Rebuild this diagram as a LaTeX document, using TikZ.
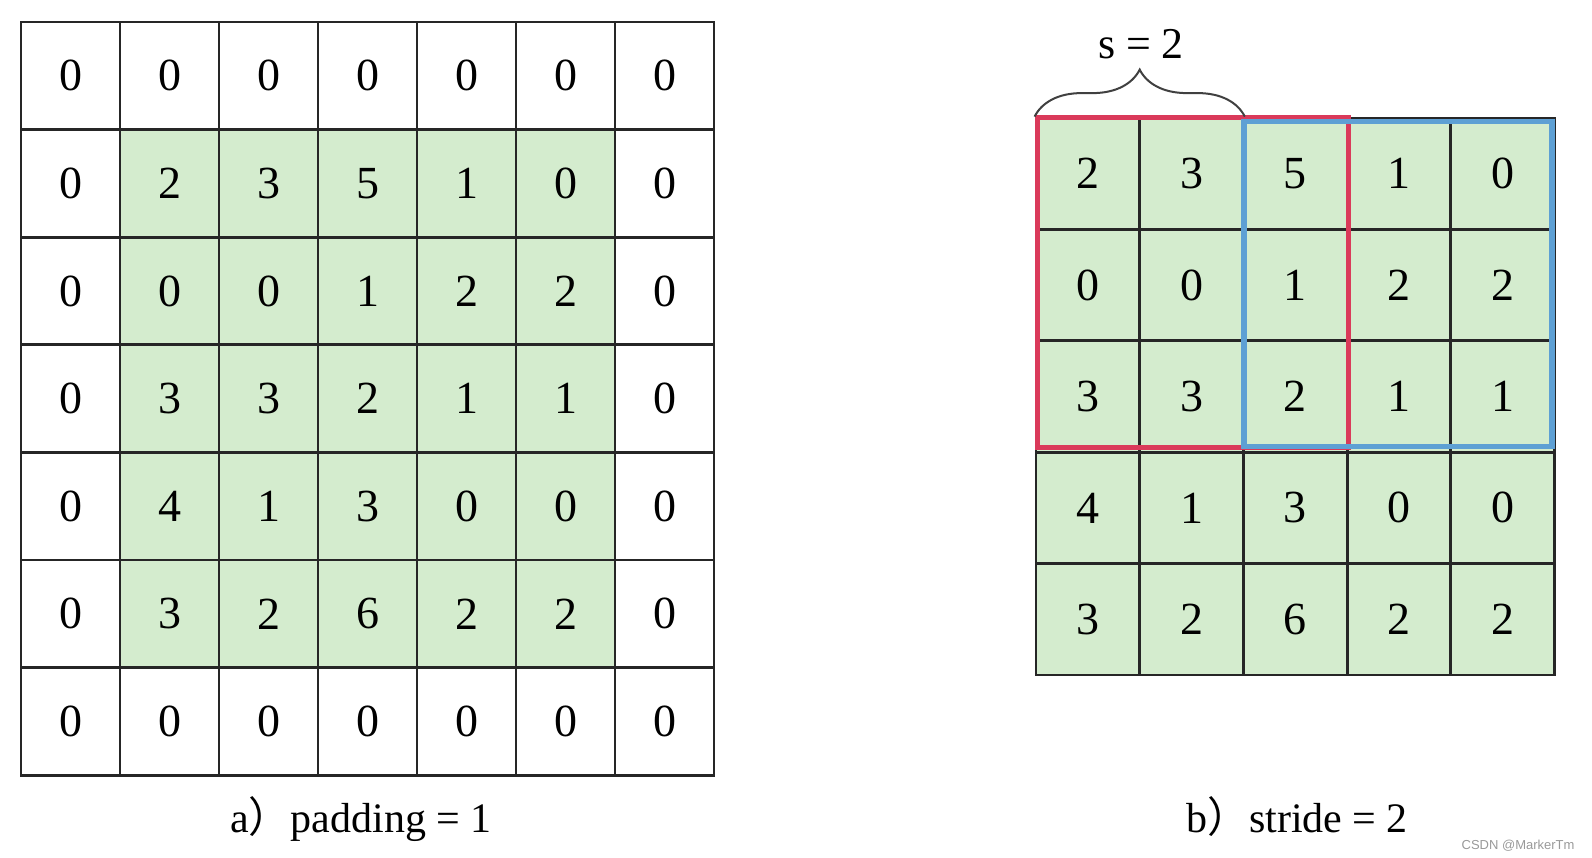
\documentclass[tikz,border=0pt]{standalone}
\usepackage{fontspec}
\setmainfont{Liberation Serif}
\newfontfamily\cjk{Noto Sans CJK SC}
\newfontfamily\wmfont{Liberation Sans}
\usetikzlibrary{backgrounds,decorations.pathreplacing}

\definecolor{cellgreen}{RGB}{212,236,206}
\definecolor{kernelred}{RGB}{218,58,90}
\definecolor{kernelblue}{RGB}{94,160,212}

\tikzset{
  cell/.style={draw=black!85, line width=2.8pt, minimum width=99pt,
    minimum height=107.6pt, inner sep=0pt, font=\fontsize{46}{46}\selectfont},
  scell/.style={cell, fill=cellgreen, minimum width=103.7pt, minimum height=111.4pt},
  caption/.style={anchor=base, font=\fontsize{42}{42}\selectfont},
}

\begin{document}
\begin{tikzpicture}[x=1pt, y=-1pt]
  \useasboundingbox (0,0) rectangle (1592,858);

  % a) input with padding
  \foreach \row [count=\r from 0] in {{0,0,0,0,0,0,0},{0,2,3,5,1,0,0},{0,0,0,1,2,2,0},
      {0,3,3,2,1,1,0},{0,4,1,3,0,0,0},{0,3,2,6,2,2,0},{0,0,0,0,0,0,0}}
    \foreach \v [count=\c from 0] in \row
      \node[cell] (pad-\r-\c) at ({21+99*(\c+0.5)},{22+107.6*(\r+0.5)}) {\v};
  \begin{scope}[on background layer]
    \fill[cellgreen] (pad-1-1.north west) rectangle (pad-5-5.south east);
  \end{scope}
  \node[caption] (capa) at (361,832) {a{\cjk ）}padding = 1};

  % b) stride
  \foreach \row [count=\r from 0] in {{2,3,5,1,0},{0,0,1,2,2},{3,3,2,1,1},{4,1,3,0,0},{3,2,6,2,2}}
    \foreach \v [count=\c from 0] in \row
      \node[scell] (str-\r-\c) at ({1036+103.7*(\c+0.5)},{118+111.4*(\r+0.5)}) {\v};

  \draw[kernelred, line width=5.5pt] ([shift={(3,1)}]str-0-0.north west)
    rectangle ([shift={(0,-6)}]str-2-2.south east);
  \draw[kernelblue, line width=5.5pt] ([shift={(2,5)}]str-0-2.north west)
    rectangle ([shift={(-4,-7)}]str-2-4.south east);

  \draw[black!75, line width=2pt, decorate, decoration={brace, amplitude=47pt}]
    (str-0-0.north west) -- (str-0-1.north east);
  \node[anchor=base, font=\fontsize{44}{44}\selectfont] (slabel) at (1141,59) {s = 2};
  \node[caption] (capb) at (1297,832) {b{\cjk ）}stride = 2};

  \node[anchor=base east, text=black!40, font=\wmfont\fontsize{13}{13}\selectfont] (mark)
    at (1578,849) {CSDN @MarkerTm};
\end{tikzpicture}
\end{document}
